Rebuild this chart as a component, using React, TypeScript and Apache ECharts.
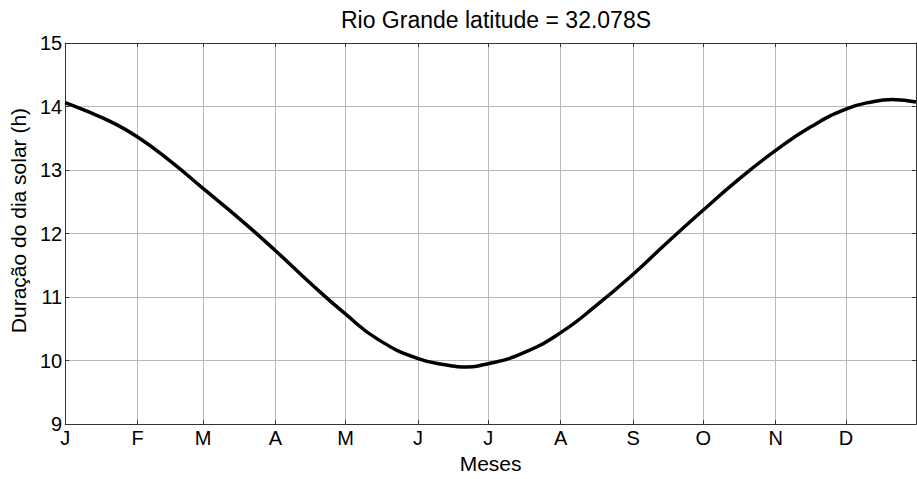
import React, { useEffect, useRef } from "react";
import * as echarts from "echarts";

const titleText = "Rio Grande latitude = 32.078S";
const yAxisName = "Duração do dia solar (h)";
const xAxisName = "Meses";

// month starts (day of year) and their letters
const monthStartDays = [1, 32, 60, 91, 121, 152, 182, 213, 244, 274, 305, 335];
const monthLetters = ["J", "F", "M", "A", "M", "J", "J", "A", "S", "O", "N", "D"];

// day of year and day length (h)
const dayOfYear = [1, 10, 20, 32, 46, 60, 76, 91, 105, 121, 135, 152, 166, 171, 182, 197, 213, 228, 244, 258, 274, 289, 305, 320, 335, 347, 355, 365];
const dayLength = [14.06, 13.93, 13.77, 13.52, 13.14, 12.71, 12.22, 11.73, 11.25, 10.73, 10.33, 10.03, 9.92, 9.90, 9.95, 10.12, 10.44, 10.86, 11.36, 11.84, 12.37, 12.85, 13.31, 13.68, 13.96, 14.08, 14.11, 14.07];

const yMin = 9;
const yMax = 15;
const yStep = 1;
const daysInYear = 365;

const FONT = "'Liberation Sans', Arial, sans-serif";

export default function App() {
  const ref = useRef<HTMLDivElement>(null);
  useEffect(() => {
    if (!ref.current) return;
    const chart = echarts.init(ref.current, undefined, { renderer: "svg", width: 917, height: 479 });
    const tickIdx = monthStartDays.map((d) => d - 1);
    const categories = Array.from({ length: daysInYear }, (_, i) => {
      const k = tickIdx.indexOf(i);
      return k >= 0 ? monthLetters[k] : "";
    });
    const isTick = (index: number) => tickIdx.indexOf(index) >= 0;
    const gridColor = "#b8b8b8";
    const axisColor = "#333";
    chart.setOption({
      animation: false,
      backgroundColor: "#fff",
      title: {
        text: titleText,
        left: 491,
        textAlign: "center",
        top: 3,
        textStyle: { fontFamily: FONT, fontSize: 23, fontWeight: "normal", color: "#000" },
      },
      grid: { left: 65, top: 43, width: 851, height: 392, containLabel: false },
      xAxis: [
        {
          type: "category",
          data: categories,
          boundaryGap: false,
          axisLine: { show: true, lineStyle: { color: axisColor, width: 1 } },
          axisTick: { show: true, inside: true, length: 4, interval: isTick, lineStyle: { color: axisColor } },
          axisLabel: {
            interval: isTick,
            margin: 4,
            fontFamily: FONT,
            fontSize: 20,
            color: "#000",
          },
          splitLine: { show: true, interval: isTick, lineStyle: { color: gridColor, width: 1 } },
          name: xAxisName,
          nameLocation: "middle",
          nameGap: 27,
          nameTextStyle: { fontFamily: FONT, fontSize: 21, color: "#000" },
        },
        {
          type: "category",
          data: categories,
          boundaryGap: false,
          position: "top",
          axisLine: { show: true, lineStyle: { color: axisColor, width: 1 } },
          axisTick: { show: true, inside: true, length: 4, interval: isTick, lineStyle: { color: axisColor } },
          axisLabel: { show: false },
          splitLine: { show: false },
        },
      ],
      yAxis: [
        {
          type: "value",
          min: yMin,
          max: yMax,
          interval: yStep,
          axisLine: { show: true, lineStyle: { color: axisColor, width: 1 } },
          axisTick: { show: true, inside: true, length: 4, lineStyle: { color: axisColor } },
          axisLabel: { margin: 3, fontFamily: FONT, fontSize: 20, color: "#000" },
          splitLine: { show: true, lineStyle: { color: gridColor, width: 1 } },
          name: yAxisName,
          nameLocation: "middle",
          nameGap: 33,
          nameTextStyle: { fontFamily: FONT, fontSize: 21, color: "#000", padding: [0, 0, 0, 26] },
        },
        {
          type: "value",
          min: yMin,
          max: yMax,
          interval: yStep,
          position: "right",
          axisLine: { show: true, lineStyle: { color: axisColor, width: 1 } },
          axisTick: { show: true, inside: true, length: 4, lineStyle: { color: axisColor } },
          axisLabel: { show: false },
          splitLine: { show: false },
        },
      ],
      series: [
        {
          type: "line",
          xAxisIndex: 0,
          yAxisIndex: 0,
          data: dayOfYear.map((d, i) => [d - 1, dayLength[i]]),
          smooth: true,
          showSymbol: false,
          lineStyle: { color: "#000", width: 3.5 },
        },
      ],
    });
    return () => chart.dispose();
  }, []);
  return (
    <div
      ref={ref}
      style={{ position: "fixed", left: 0, top: 0, width: 917, height: 479, background: "#fff" }}
    />
  );
}
